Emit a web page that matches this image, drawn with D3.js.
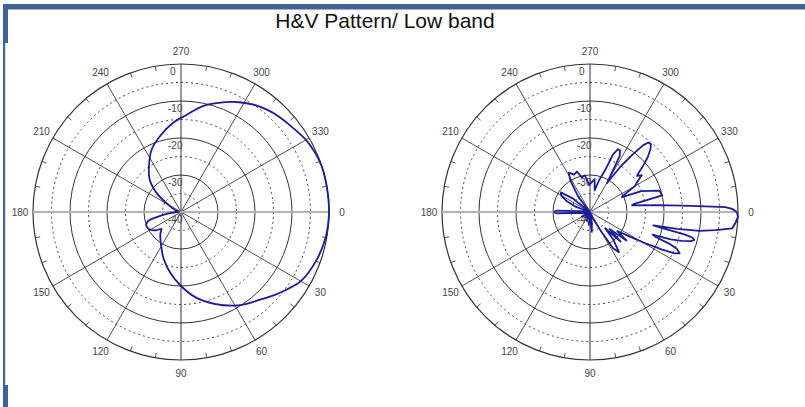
<!DOCTYPE html>
<html><head><meta charset="utf-8">
<script src="https://cdn.jsdelivr.net/npm/d3@7"></script>
<style>body{margin:0;background:#fff;}svg{display:block;font-family:"Liberation Sans",Arial,sans-serif;}</style>
</head><body>
<script>
// ---- data ----
const title = "H&V Pattern/ Low band";
const angleTicks = [0,30,60,90,120,150,180,210,240,270,300,330];
const angleLabels = ["0","30","60","90","120","150","180","210","240","270","300","330"];
const ringLevels = [-35,-30,-25,-20,-15,-10,-5,0];
const ringLabelLevels = [0,-10,-20,-30,-40];
const ringLabels = ["0","-10","-20","-30","-40"];

// H pattern (left): angle in degrees, gain in dB
const hAngles = [0,10,20,30,36,42,48,54,60,70,80,90,100,110,120,130,135,139,144,150,158,164,168,174,180,190,198,205,211,218,226,235,245,255,265,273,282,292,298,304,310,316,322,330,336,342,351];
const hGain   = [0,-0.3,-1.2,-2.6,-4.5,-6.3,-8.1,-9.4,-10.8,-13.6,-16.5,-20,-23.3,-26.4,-29.3,-31.3,-32.2,-33,-31.6,-30.4,-29.9,-30.6,-33.3,-37,-39,-39.5,-38.4,-37.2,-35.5,-31.6,-27.8,-24.9,-21.3,-18.6,-15.8,-13.8,-10.7,-8,-6.4,-5,-3.9,-3,-2.3,-1,-0.4,0,0];

// V pattern (right)
const vAngles = [0,1.9,4,6.6,8.2,9.8,11,11.9,12.5,13.3,14,15,16,17.5,18.8,19.8,20.8,21.8,23,24.8,26,27.5,29.5,31.5,35,38,41,44,47,50,52.7,54.2,57.5,60,65,72,80,85,88,95,100,110,120,130,140,150,160,170,176,177.5,180,182.5,185,192,200,205,210,214,218,224,232,238,241.6,247,252,256.6,262,268,273,278,282,286,289.8,291.8,294,296,297.9,300.5,302,304,306.6,308.5,310,312,314,316.5,319,321,322.5,324.5,327,330,333,335,338,342.8,347,349.5,351,354,356.1,357.2,357.9,358.7];
const vGain   = [-0.3,0,-0.5,-1.3,-5.7,-10,-16,-22.5,-20,-14,-11.5,-10.8,-11.5,-14,-17,-22,-21,-17,-14.5,-13.3,-14.5,-18,-23,-27,-31,-27.5,-33,-28.5,-34,-30,-28.2,-26.6,-28.4,-34,-38,-40,-37,-34.6,-38,-36.5,-40,-37.5,-40,-38,-40,-37.5,-40,-38,-37,-31,-30.2,-31,-37,-40,-36,-33,-31,-30.5,-34,-40,-35,-30,-27.9,-29,-28.5,-30.4,-30,-32.5,-32,-31,-34,-31,-28.1,-23.2,-21.4,-21.5,-22.8,-31,-29,-25,-20.5,-17,-15.5,-15.4,-16.5,-18.5,-21,-23,-24,-22.8,-24.5,-26,-29.5,-30.5,-25,-20.4,-20,-27.8,-28.5,-22,-14.9,-8.7,-3.4,-1.6];

// ---- drawing ----
const W = 805, H = 407, R = 148;
const svg = d3.select("body").append("svg").attr("width", W).attr("height", H);

// frame
const frameCol = "#3f6398";
svg.append("rect").attr("x",3).attr("y",4).attr("width",W-3).attr("height",5.5).attr("fill",frameCol);
svg.append("rect").attr("x",3).attr("y",4).attr("width",5).attr("height",39).attr("fill",frameCol);
svg.append("rect").attr("x",3).attr("y",43).attr("width",2.2).attr("height",342).attr("fill",frameCol);
svg.append("rect").attr("x",3).attr("y",385).attr("width",5).attr("height",22).attr("fill",frameCol);

svg.append("text").attr("x",385).attr("y",28).attr("text-anchor","middle")
  .attr("font-size",21).attr("fill","#111").text(title);

const rScale = d3.scaleLinear().domain([-40,0]).range([0,R]);
const aScale = d3.scaleLinear().domain([0,360]).range([Math.PI/2, Math.PI/2 + 2*Math.PI]);
const rad = d => d*Math.PI/180;

function polar(cx, cy, angles, gains, curve) {
  const g = svg.append("g").attr("transform",`translate(${cx},${cy})`);
  g.selectAll("circle.ring").data(ringLevels).join("circle")
    .attr("r", d => rScale(d)).attr("fill","none")
    .attr("stroke", d => d % 10 === 0 ? "#333" : "#444")
    .attr("stroke-width", d => d === 0 ? 1.2 : 1)
    .attr("stroke-dasharray", d => d % 10 === 0 ? null : "2,3");
  g.selectAll("line.spoke").data(angleTicks.filter(a => a % 90 !== 0)).join("line")
    .attr("x1",0).attr("y1",0)
    .attr("x2", d => R*Math.cos(rad(d))).attr("y2", d => R*Math.sin(rad(d)))
    .attr("stroke","#3a3a3a").attr("stroke-width",0.9);
  g.append("line").attr("x1",0).attr("y1",-R).attr("x2",0).attr("y2",R)
    .attr("stroke","#333").attr("stroke-width",1);
  g.append("line").attr("x1",-R).attr("y1",0).attr("x2",R).attr("y2",0)
    .attr("stroke","#b4b4b4").attr("stroke-width",2);
  const minor = d3.range(0,360,10).filter(a => a % 30 !== 0);
  g.selectAll("line.tick").data(minor).join("line")
    .attr("x1", d => R*Math.cos(rad(d))).attr("y1", d => R*Math.sin(rad(d)))
    .attr("x2", d => (R-5)*Math.cos(rad(d))).attr("y2", d => (R-5)*Math.sin(rad(d)))
    .attr("stroke","#444").attr("stroke-width",0.9);
  g.selectAll("text.alab").data(angleTicks).join("text")
    .attr("x", d => 161*Math.cos(rad(d))).attr("y", d => 161*Math.sin(rad(d)))
    .attr("text-anchor","middle").attr("dominant-baseline","central")
    .attr("font-size",10).attr("fill","#444")
    .text((d,i) => angleLabels[i]);
  g.selectAll("text.rlab").data(ringLabelLevels).join("text")
    .attr("x", (d,i) => i === 0 ? -11 : -13)
    .attr("y", d => -rScale(d) + 7.5)
    .attr("dominant-baseline","central")
    .attr("font-size",10).attr("fill","#444")
    .text((d,i) => ringLabels[i]);
  const pts = angles.map((a,i) => [a, gains[i]]);
  const line = d3.lineRadial().angle(d => aScale(d[0])).radius(d => rScale(d[1])).curve(curve);
  g.append("path").attr("d", line(pts)).attr("fill","none")
    .attr("stroke","#1c1c96").attr("stroke-width",1.8).attr("stroke-linejoin","round");
}

polar(181, 212, hAngles, hGain, d3.curveCatmullRomClosed);
polar(590, 212, vAngles, vGain, d3.curveLinearClosed);
</script>
</body></html>
